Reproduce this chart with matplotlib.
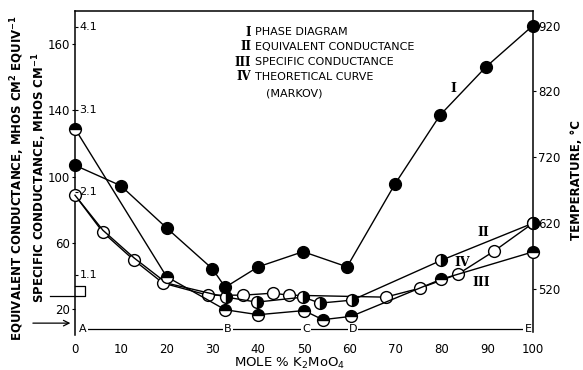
import matplotlib
matplotlib.use("Agg")
import matplotlib.pyplot as plt
from matplotlib.transforms import blended_transform_factory

plt.rcParams['font.family'] = ['DejaVu Sans']

# ---------------- data ----------------
# Curve I: phase diagram (temperature, deg C)
phase_x = [0, 10, 20, 30, 32.8, 40, 49.8, 59.4, 69.9, 79.7, 89.7, 100]
phase_T = [708, 677, 613, 551, 523, 554, 577, 554, 680, 784, 857, 920]

# Curve II: equivalent conductance (mhos cm^2 equiv^-1)
equiv_x = [0, 6.1, 12.9, 20, 33, 39.7, 49.8, 53.5, 60.5, 80, 100]
equiv_v = [88.7, 67.5, 50.8, 35.6, 27.1, 24.1, 27.1, 23.5, 25.3, 49.4, 71.8]

# Curve III: specific conductance (mhos cm^-1)
spec_x = [0, 20, 32.8, 40, 50, 54.1, 60.3, 80, 100]
spec_s = [2.87, 1.08, 0.68, 0.62, 0.67, 0.56, 0.60, 1.05, 1.38]

# Curve IV: theoretical curve (Markov), equivalent conductance units
theo_x = [0, 6.1, 12.9, 19.2, 29, 36.7, 43.2, 46.7, 67.8, 75.3, 83.6, 91.5, 100]
theo_v = [88.7, 66.3, 49.4, 35.6, 28.3, 28.3, 29.5, 28.3, 27.1, 32.5, 41.0, 54.9, 71.8]

x_ticks = [0, 10, 20, 30, 40, 50, 60, 70, 80, 90, 100]
left_tick_pos = [20, 60, 100, 140, 180]
left_tick_labels = ['20', '60', '100', '140', '160']
spec_tick_vals = [1.1, 2.1, 3.1, 4.1]
temp_ticks = [520, 620, 720, 820, 920]

region_letters = ['A', 'B', 'C', 'D', 'E']
region_x = [1.7, 33.4, 50.4, 60.7, 98.9]
region_level = 8.1

legend_numerals = ['I', 'II', 'III', 'IV']
legend_texts = ['PHASE DIAGRAM', 'EQUIVALENT CONDUCTANCE',
                'SPECIFIC CONDUCTANCE', 'THEORETICAL CURVE']

# ---------------- figure ----------------
fig = plt.figure(figsize=(5.83, 3.70), dpi=100)
ax = fig.add_axes([75/583, 1-342/370, (533-75)/583, (342-11)/370])
axT = ax.twinx()
axS = ax.twinx()

ax.set_xlim(0, 100)
ax.set_ylim(0, 200)
axT.set_ylim(440, 942)
axS.set_ylim(0.29, 4.293)

lw = 1.0
ms = 8.5

# IV theoretical curve (open circles)
ax.plot(theo_x, theo_v, color='black', lw=lw, marker='o', ms=ms,
        mfc='white', mec='black', mew=1.0, zorder=3, clip_on=False)
# II equivalent conductance (right-half filled)
ax.plot(equiv_x, equiv_v, color='black', lw=lw, zorder=3, clip_on=False)
ax.plot(equiv_x[4:], equiv_v[4:], ls='none', marker='o', ms=ms,
        fillstyle='right', mfc='black', mfcalt='white', mec='black',
        mew=1.0, zorder=4, clip_on=False)
# III specific conductance (top-half filled)
axS.plot(spec_x, spec_s, color='black', lw=lw, marker='o', ms=ms,
         fillstyle='top', mfc='black', mfcalt='white', mec='black',
         mew=1.0, zorder=4, clip_on=False)
# I phase diagram (filled)
axT.plot(phase_x, phase_T, color='black', lw=lw, marker='o', ms=ms,
         mfc='black', mec='black', zorder=5, clip_on=False)

# spines
for a in (ax, axT, axS):
    a.spines['bottom'].set_visible(False)
ax.spines['right'].set_visible(False)
axS.spines['right'].set_visible(False)
axS.spines['left'].set_visible(False)
axS.spines['top'].set_visible(False)
axT.spines['left'].set_visible(False)
axT.spines['top'].set_visible(False)
ax.spines['left'].set_bounds(4, 200)
axT.spines['right'].set_bounds(455, 942)
for a in (ax, axT):
    for s in a.spines.values():
        s.set_linewidth(1.1)

# ticks
ax.set_xticks(x_ticks)
ax.set_xticklabels([str(t) for t in x_ticks], fontsize=8.5)
ax.tick_params(axis='x', length=0, pad=1)
ax.set_yticks(left_tick_pos)
ax.set_yticklabels(left_tick_labels, fontsize=8.5)
ax.tick_params(axis='y', direction='out', length=2.5, pad=1)

axT.set_yticks(temp_ticks)
axT.set_yticklabels([str(t) for t in temp_ticks], fontsize=8.5)
axT.tick_params(axis='y', direction='out', length=2.5, pad=1)

axS.yaxis.set_ticks_position('left')
axS.set_yticks(spec_tick_vals)
axS.tick_params(axis='y', direction='in', length=2.5, labelleft=False, labelright=False)
transS = blended_transform_factory(ax.transData, axS.transData)
for v in spec_tick_vals:
    ax.text(1.0, v, f'{v:.1f}', transform=transS, fontsize=8,
            ha='left', va='center', zorder=6)

# axis labels
fig.text(18/583, 1-178/370, 'EQUIVALENT CONDUCTANCE, MHOS CM$^{\\mathbf{2}}$ EQUIV$^{\\mathbf{-1}}$',
         rotation=90, ha='center', va='center', fontsize=8.5, fontweight='bold')
fig.text(40/583, 1-178/370, 'SPECIFIC CONDUCTANCE, MHOS CM$^{\\mathbf{-1}}$',
         rotation=90, ha='center', va='center', fontsize=8.5, fontweight='bold')
fig.text(576/583, 1-180/370, 'TEMPERATURE, \u00b0C', rotation=90,
         ha='center', va='center', fontsize=8.5, fontweight='bold')
fig.text(290/583, 1-363/370, 'MOLE % K$_2$MoO$_4$', ha='center', va='center',
         fontsize=9.5)

# region line A-E
ax.plot([region_x[0], region_x[-1]], [region_level, region_level],
        color='black', lw=0.9, clip_on=False, zorder=2)
for lab, xx in zip(region_letters, region_x):
    ax.text(xx, region_level, lab, ha='center', va='center', fontsize=8,
            bbox=dict(boxstyle='square,pad=0.1', fc='white', ec='none'), zorder=3)

# legend text block
leg_y = [32, 47, 62, 77]
for num, txt, yy in zip(legend_numerals, legend_texts, leg_y):
    fig.text(251/583, 1-yy/370, num, ha='right', va='center', fontsize=8.5,
             family='DejaVu Serif', fontweight='bold')
    fig.text(255/583, 1-yy/370, txt, ha='left', va='center', fontsize=8)
fig.text(294/583, 1-93/370, '(MARKOV)', ha='center', va='center', fontsize=8)

# curve labels in plot
fig.text(453/583, 1-88/370, 'I', ha='center', va='center', fontsize=9,
         family='DejaVu Serif', fontweight='bold')
fig.text(483/583, 1-233/370, 'II', ha='center', va='center', fontsize=9,
         family='DejaVu Serif', fontweight='bold')
fig.text(481/583, 1-283/370, 'III', ha='center', va='center', fontsize=9,
         family='DejaVu Serif', fontweight='bold')
fig.text(462/583, 1-262/370, 'IV', ha='center', va='center', fontsize=9,
         family='DejaVu Serif', fontweight='bold')

# left-side annotations: arrow and bracket
ax.annotate('', xy=(-0.4, 11.4), xytext=(-9.8, 11.4),
            arrowprops=dict(arrowstyle='->', lw=0.9, color='black'),
            annotation_clip=False)
ax.plot([-5.5, 0], [27.7, 27.7], color='black', lw=0.9, clip_on=False)
ax.plot([0, 2.2, 2.2, 0], [33.7, 33.7, 27.7, 27.7], color='black', lw=0.9,
        clip_on=False)

fig.savefig('out.png', dpi=100)
